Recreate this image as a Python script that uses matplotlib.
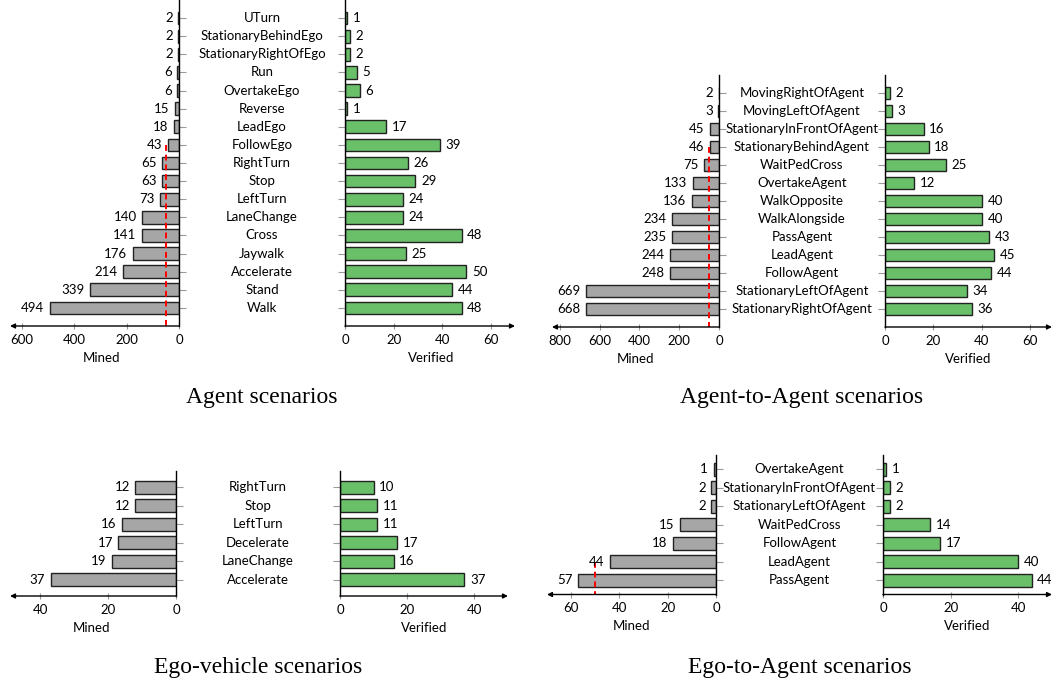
import matplotlib.pyplot as plt
import matplotlib.transforms as mtransforms

W, H = 1053, 685

# Agent scenarios
agent_cats = ['UTurn', 'StationaryBehindEgo', 'StationaryRightOfEgo', 'Run', 'OvertakeEgo',
              'Reverse', 'LeadEgo', 'FollowEgo', 'RightTurn', 'Stop', 'LeftTurn', 'LaneChange',
              'Cross', 'Jaywalk', 'Accelerate', 'Stand', 'Walk']
agent_mined = [2, 2, 2, 6, 6, 15, 18, 43, 65, 63, 73, 140, 141, 176, 214, 339, 494]
agent_verified = [1, 2, 2, 5, 6, 1, 17, 39, 26, 29, 24, 24, 48, 25, 50, 44, 48]

# Agent-to-Agent scenarios
a2a_cats = ['MovingRightOfAgent', 'MovingLeftOfAgent', 'StationaryInFrontOfAgent',
            'StationaryBehindAgent', 'WaitPedCross', 'OvertakeAgent', 'WalkOpposite',
            'WalkAlongside', 'PassAgent', 'LeadAgent', 'FollowAgent',
            'StationaryLeftOfAgent', 'StationaryRightOfAgent']
a2a_mined = [2, 3, 45, 46, 75, 133, 136, 234, 235, 244, 248, 669, 668]
a2a_verified = [2, 3, 16, 18, 25, 12, 40, 40, 43, 45, 44, 34, 36]

# Ego-vehicle scenarios
ego_cats = ['RightTurn', 'Stop', 'LeftTurn', 'Decelerate', 'LaneChange', 'Accelerate']
ego_mined = [12, 12, 16, 17, 19, 37]
ego_verified = [10, 11, 11, 17, 16, 37]

# Ego-to-Agent scenarios
e2a_cats = ['OvertakeAgent', 'StationaryInFrontOfAgent', 'StationaryLeftOfAgent',
            'WaitPedCross', 'FollowAgent', 'LeadAgent', 'PassAgent']
e2a_mined = [1, 2, 2, 15, 18, 44, 57]
e2a_verified = [1, 2, 2, 14, 17, 40, 44]

threshold = 50

plt.rcParams['font.family'] = ['Lato', 'DejaVu Sans']
plt.rcParams['font.size'] = 9.5

GRAY = '#a6a6a6'
GREEN = '#6abf69'
EDGE = '#222222'
TICK = '#999999'

fig = plt.figure(figsize=(W / 100, H / 100), dpi=100)


def px_axes(x0, x1, y0, y1):
    return fig.add_axes([x0 / W, 1 - y1 / H, (x1 - x0) / W, (y1 - y0) / H])


def style_axis(ax, mined):
    for s in ['top', 'left', 'right', 'bottom']:
        ax.spines[s].set_visible(False)
    if mined:
        ax.spines['right'].set_visible(True)
        ax.spines['right'].set_linewidth(1.0)
        ax.yaxis.tick_right()
        tip, tail = (0, 0), (1, 0)
    else:
        ax.spines['left'].set_visible(True)
        ax.spines['left'].set_linewidth(1.0)
        tip, tail = (1, 0), (0, 0)
    ax.annotate('', xy=tip, xytext=tail, xycoords='axes fraction',
                arrowprops=dict(arrowstyle='-|>', color='black', lw=1.0,
                                mutation_scale=7, shrinkA=0, shrinkB=0))
    ax.tick_params(axis='y', length=5, width=0.8, color=TICK, labelleft=False, labelright=False)
    ax.tick_params(axis='x', direction='inout', length=5, width=0.8, color=TICK, pad=3)


def draw_panel(cats, mined, verified, title, mx, vx, ytop, ybot, pad,
               mmax, vmax, mticks, vticks, mlabel_x, vlabel_x, title_y, thresh_from=None):
    n = len(cats)
    rows = list(range(n))
    ylim = (n - 1 + pad, -pad)

    axm = px_axes(mx[0], mx[1], ytop, ybot)
    axm.barh(rows, mined, height=0.7, color=GRAY, edgecolor=EDGE, linewidth=1.0)
    axm.set_xlim(mmax, 0)
    axm.set_ylim(*ylim)
    axm.set_yticks(rows)
    axm.set_xticks(mticks)
    style_axis(axm, True)
    for i, v in enumerate(mined):
        axm.annotate(str(v), (v, i), xytext=(-4, 0), textcoords='offset points',
                     ha='right', va='center')
    if thresh_from is not None:
        axm.plot([threshold, threshold], [thresh_from, ylim[0]], color='red',
                 ls=(0, (3, 2)), lw=1.4, clip_on=False)

    axv = px_axes(vx[0], vx[1], ytop, ybot)
    axv.barh(rows, verified, height=0.7, color=GREEN, edgecolor=EDGE, linewidth=1.0)
    axv.set_xlim(0, vmax)
    axv.set_ylim(*ylim)
    axv.set_yticks(rows)
    axv.set_xticks(vticks)
    style_axis(axv, False)
    for i, v in enumerate(verified):
        axv.annotate(str(v), (v, i), xytext=(4, 0), textcoords='offset points',
                     ha='left', va='center')

    cx = (mx[1] + vx[0]) / 2
    trans = mtransforms.blended_transform_factory(fig.transFigure, axm.transData)
    for i, c in enumerate(cats):
        axm.text(cx / W, i, c, transform=trans, ha='center', va='center')

    fig.text(mlabel_x / W, 1 - (ybot + 32) / H, 'Mined', ha='center', va='center')
    fig.text(vlabel_x / W, 1 - (ybot + 32) / H, 'Verified', ha='center', va='center')
    fig.text(cx / W, 1 - title_y / H, title, family='Liberation Serif', size=17,
             ha='center', va='center')


draw_panel(agent_cats, agent_mined, agent_verified, 'Agent scenarios',
           (10, 179), (345, 515), 0, 326, 1.0, 645, 70,
           [0, 200, 400, 600], [0, 20, 40, 60], 101, 431, 398, thresh_from=7)

draw_panel(a2a_cats, a2a_mined, a2a_verified, 'Agent-to-Agent scenarios',
           (552, 719), (885, 1052), 75, 327, 1.0, 840, 69,
           [0, 200, 400, 600, 800], [0, 20, 40, 60], 635, 968, 398, thresh_from=3)

draw_panel(ego_cats, ego_mined, ego_verified, 'Ego-vehicle scenarios',
           (10, 176), (340, 508), 471, 596, 0.87, 49, 50,
           [0, 20, 40], [0, 20, 40], 92, 424, 668)

draw_panel(e2a_cats, e2a_mined, e2a_verified, 'Ego-to-Agent scenarios',
           (547, 716), (883, 1052), 455, 594.5, 0.78, 70, 50,
           [0, 20, 40, 60], [0, 20, 40], 631, 967, 668, thresh_from=5)

fig.savefig('out.png', dpi=100)
